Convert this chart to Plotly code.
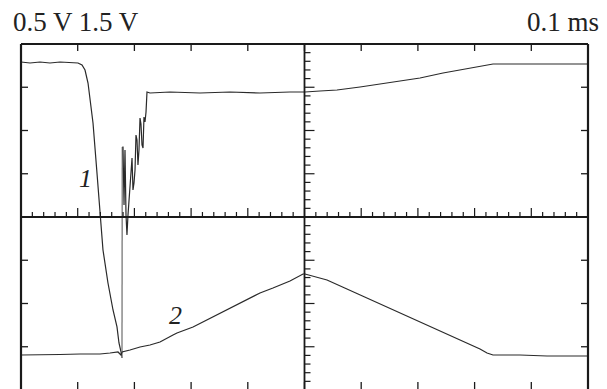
import plotly.graph_objects as go

# Oscilloscope screen: 10 x 8 divisions, values in divisions
# Trace 1 - falling part
t1_fall_x = [0, 0.159, 0.335, 0.511, 0.688, 0.864, 1.005, 1.076, 1.129, 1.182, 1.217, 1.270,
             1.340, 1.393, 1.446, 1.534, 1.623, 1.693, 1.728, 1.764, 1.781]
t1_fall_y = [3.584, 3.561, 3.584, 3.561, 3.584, 3.573, 3.561, 3.514, 3.399, 3.098, 2.705, 2.173,
             1.017, 0.092, -0.763, -1.526, -2.150, -2.543, -2.913, -3.121, -3.260]
# Trace 1 - spiky recovery and plateau
t1_rec_x = [1.787, 1.799, 1.817, 1.834, 1.852, 1.869, 1.887, 1.922, 1.940, 1.958, 1.975, 1.993,
            2.011, 2.028, 2.046, 2.063, 2.081, 2.099, 2.116, 2.134, 2.152, 2.169, 2.187, 2.205,
            2.222, 2.275, 2.628, 3.157, 3.686, 4.215, 4.744, 5.009, 5.273, 5.573, 5.979, 6.561,
            7.037, 7.443, 7.831, 8.042, 8.272, 8.325, 8.801, 9.330, 10.0]
t1_rec_y = [1.618, 1.618, 0.277, 1.549, 0.046, -0.416, 0.046, 0.624, 1.040, 1.364, 0.624, 0.786,
            1.087, 1.896, 1.780, 1.202, 1.549, 2.289, 2.150, 1.665, 1.595, 2.312, 2.197, 2.428,
            2.890, 2.867, 2.890, 2.867, 2.890, 2.867, 2.890, 2.890, 2.913, 2.936, 3.006, 3.121,
            3.214, 3.329, 3.422, 3.468, 3.538, 3.538, 3.538, 3.538, 3.538]
# Trace 2
t2_x = [0, 0.335, 0.688, 1.041, 1.393, 1.570, 1.711, 1.764, 1.781, 1.922, 2.099, 2.275, 2.451,
        2.681, 2.751, 3.034, 3.280, 3.510, 3.862, 4.215, 4.444, 4.744, 4.974, 5.009, 5.397,
        5.979, 6.561, 7.160, 7.743, 8.095, 8.219, 8.325, 8.801, 9.277, 9.683, 10.0]
t2_y = [-3.191, -3.191, -3.179, -3.168, -3.168, -3.145, -3.121, -3.191, -3.121, -3.075, -3.006,
        -2.960, -2.890, -2.728, -2.682, -2.543, -2.382, -2.220, -1.988, -1.757, -1.642, -1.480,
        -1.318, -1.318, -1.457, -1.803, -2.150, -2.497, -2.844, -3.052, -3.145, -3.191, -3.191,
        -3.214, -3.214, -3.214]

labels_top_left = "0.5 V 1.5 V"
label_top_right = "0.1 ms"
curve_labels = ["1", "2"]
curve_label_x = [1.146, 2.716]
curve_label_y = [0.90, -2.266]

FONT = "Liberation Serif, Times New Roman, serif"
LC = "#1a1a1a"

fig = go.Figure()
fig.add_trace(go.Scatter(x=t1_fall_x, y=t1_fall_y, mode="lines",
                         line=dict(color="#2a2a2a", width=1.2), hoverinfo="skip"))
fig.add_trace(go.Scatter(x=[t1_fall_x[-1], t1_rec_x[0]], y=[t1_fall_y[-1], t1_rec_y[0]],
                         mode="lines", line=dict(color="#8a8a8a", width=1.5), hoverinfo="skip"))
fig.add_trace(go.Scatter(x=t1_rec_x, y=t1_rec_y, mode="lines",
                         line=dict(color="#2a2a2a", width=1.2), hoverinfo="skip"))
fig.add_trace(go.Scatter(x=t2_x, y=t2_y, mode="lines",
                         line=dict(color="#2a2a2a", width=1.2), hoverinfo="skip"))

shapes = []
def seg(x0, y0, x1, y1, w=1.3):
    shapes.append(dict(type="line", x0=x0, y0=y0, x1=x1, y1=y1, xref="x", yref="y",
                       line=dict(color=LC, width=w)))

PX_X = 56.7
PX_Y = 43.25
# border
seg(0, -4.2, 0, 4, 2.2)
seg(10, -4.2, 10, 4, 2.2)
seg(0, 4, 10, 4, 2.2)
seg(0, -4, 10, -4, 2.2)
# centre cross
seg(0, 0, 10, 0, 1.8)
seg(5, -4.2, 5, 4, 1.8)
# border ticks
for i in range(1, 10):
    seg(i, 4, i, 4 - 7 / PX_Y, 1.3)
    seg(i, -4, i, -4 + 8 / PX_Y, 1.3)
for j in [-3, -2, -1, 1, 2, 3]:
    seg(0, j, 7 / PX_X, j, 1.3)
    seg(10, j, 10 - 7 / PX_X, j, 1.3)
# centre line ticks
for k in range(1, 50):
    xv = k * 0.2
    ln = 9 if k % 5 == 0 else 5
    seg(xv, 0, xv, ln / PX_Y, 1.2)
for k in range(-19, 20):
    if k == 0:
        continue
    yv = k * 0.2
    ln = 10 if k % 5 == 0 else 6
    seg(5, yv, 5 + ln / PX_X, yv, 1.2)

ML, MR, MT = 15, 13, 38
PLOT_H = 389 - MT
PLOT_W = 607 - ML - MR
label_y = 1 + (MT - 22) / PLOT_H

annotations = [
    dict(text=labels_top_left, xref="paper", yref="paper", x=(11 - ML) / PLOT_W, y=label_y,
         xanchor="left", yanchor="middle", showarrow=False,
         font=dict(family=FONT, size=27, color="#222")),
    dict(text=label_top_right, xref="paper", yref="paper", x=(601 - ML) / PLOT_W, y=label_y,
         xanchor="right", yanchor="middle", showarrow=False,
         font=dict(family=FONT, size=27, color="#222")),
]
for t, xv, yv in zip(curve_labels, curve_label_x, curve_label_y):
    annotations.append(dict(text="<i>" + t + "</i>", x=xv, y=yv, xref="x", yref="y",
                            showarrow=False, xanchor="center", yanchor="middle",
                            font=dict(family=FONT, size=26, color="#222")))

fig.update_layout(
    width=607, height=389,
    margin=dict(l=ML, r=MR, t=MT, b=0, pad=0),
    paper_bgcolor="white", plot_bgcolor="white",
    showlegend=False,
    xaxis=dict(range=[-(21 - ML) / PX_X, 10 + (607 - MR - 588) / PX_X], visible=False,
               fixedrange=True),
    yaxis=dict(range=[4 - 345 / PX_Y, 4 + (44 - MT) / PX_Y], visible=False, fixedrange=True),
    shapes=shapes,
    annotations=annotations,
)

fig.write_html("out.html", config={"displayModeBar": False},
               post_script="document.body.style.margin='0';")
